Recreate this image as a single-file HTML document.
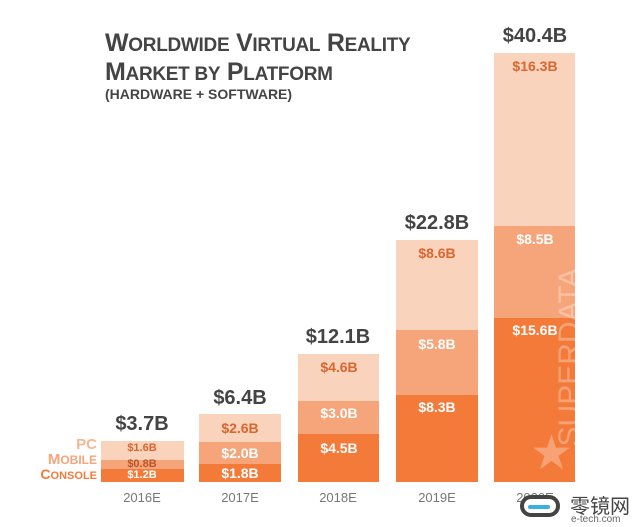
<!DOCTYPE html>
<html><head><style>
body{margin:0;width:640px;height:527px;background:#fff;position:relative;overflow:hidden;font-family:"Liberation Sans Narrow","Liberation Sans",sans-serif;}
.a{position:absolute}
.bar{position:absolute}
.c{background:#f47a3a}.m{background:#f6a57a}.p{background:#fad3bc}
.l{position:absolute;font-weight:bold;text-align:center;font-size:14px;color:#fff;width:82px}
.lp{color:#d9662e}
.t{position:absolute;font-weight:bold;text-align:center;font-size:20px;color:#444;width:100px}
.x{position:absolute;text-align:center;font-size:13px;color:#777;width:90px;top:490px;font-family:"Liberation Sans",sans-serif}
</style></head><body>
<div class="a" style="left:105px;top:30px;font-weight:bold;color:#444;font-size:25px;line-height:26px;letter-spacing:-0.3px">W<span style="font-size:19px">ORLDWIDE</span> V<span style="font-size:19px">IRTUAL</span> R<span style="font-size:19px">EALITY</span><br>M<span style="font-size:19px">ARKET BY</span> P<span style="font-size:19px">LATFORM</span></div>
<div class="a" style="left:105px;top:86px;font-weight:bold;color:#444;font-size:14px">(HARDWARE + SOFTWARE)</div>

<!-- 2016 -->
<div class="bar p" style="left:101px;width:83px;top:441px;height:19px"></div>
<div class="bar m" style="left:101px;width:83px;top:460px;height:9px"></div>
<div class="bar c" style="left:101px;width:83px;top:469px;height:13px"></div>
<div class="l lp" style="left:101px;top:442px;font-size:11px">$1.6B</div>
<div class="l lp" style="left:101px;top:458px;font-size:11px;color:#b8552a">$0.8B</div>
<div class="l" style="left:101px;top:469px;font-size:11px">$1.2B</div>
<div class="t" style="left:92px;top:413px">$3.7B</div>
<div class="a" style="left:70px;top:436px;width:27px;text-align:right;font-weight:bold;color:#f9b591;font-size:15px">PC</div>
<div class="a" style="left:30px;top:451px;width:67px;text-align:right;font-weight:bold;color:#f6a57a;font-size:15px">M<span style="font-size:12px">OBILE</span></div>
<div class="a" style="left:20px;top:466px;width:77px;text-align:right;font-weight:bold;color:#f47a3a;font-size:14px">C<span style="font-size:11px">ONSOLE</span></div>
<div class="x" style="left:97px">2016E</div>

<!-- 2017 -->
<div class="bar p" style="left:199px;width:82px;top:414px;height:28px"></div>
<div class="bar m" style="left:199px;width:82px;top:442px;height:22px"></div>
<div class="bar c" style="left:199px;width:82px;top:464px;height:18px"></div>
<div class="l lp" style="left:199px;top:420px">$2.6B</div>
<div class="l" style="left:199px;top:445px">$2.0B</div>
<div class="l" style="left:199px;top:465px">$1.8B</div>
<div class="t" style="left:190px;top:387px">$6.4B</div>
<div class="x" style="left:195px">2017E</div>

<!-- 2018 -->
<div class="bar p" style="left:298px;width:81px;top:354px;height:47px"></div>
<div class="bar m" style="left:298px;width:81px;top:401px;height:33px"></div>
<div class="bar c" style="left:298px;width:81px;top:434px;height:48px"></div>
<div class="l lp" style="left:298px;top:359px">$4.6B</div>
<div class="l" style="left:298px;top:405px">$3.0B</div>
<div class="l" style="left:298px;top:440px">$4.5B</div>
<div class="t" style="left:288px;top:326px">$12.1B</div>
<div class="x" style="left:293px">2018E</div>

<!-- 2019 -->
<div class="bar p" style="left:396px;width:82px;top:240px;height:90px"></div>
<div class="bar m" style="left:396px;width:82px;top:330px;height:65px"></div>
<div class="bar c" style="left:396px;width:82px;top:395px;height:87px"></div>
<div class="l lp" style="left:396px;top:245px">$8.6B</div>
<div class="l" style="left:396px;top:336px">$5.8B</div>
<div class="l" style="left:396px;top:399px">$8.3B</div>
<div class="t" style="left:387px;top:212px">$22.8B</div>
<div class="x" style="left:392px">2019E</div>

<!-- 2020 -->
<div class="bar p" style="left:494px;width:81px;top:53px;height:173px"></div>
<div class="bar m" style="left:494px;width:81px;top:226px;height:92px"></div>
<div class="bar c" style="left:494px;width:81px;top:318px;height:164px"></div>
<div class="l lp" style="left:494px;top:58px">$16.3B</div>
<div class="l" style="left:494px;top:231px">$8.5B</div>
<div class="l" style="left:494px;top:322px">$15.6B</div>
<div class="t" style="left:485px;top:25px">$40.4B</div>
<div class="a" style="left:470px;top:340px;width:200px;transform:rotate(-90deg);font-family:'Liberation Sans',sans-serif;font-size:30px;color:rgba(255,255,255,0.3);text-align:center">SUPERDATA</div>
<div class="a" style="left:530px;top:425px;font-size:48px;color:rgba(255,255,255,0.3);font-family:'DejaVu Sans',sans-serif">★</div>
<div class="x" style="left:490px">2020E</div>

<div class="a" style="left:520px;top:495px;width:40px;height:22px;border:4px solid #444;border-radius:13px;box-sizing:border-box;background:#fff"></div>
<div class="a" style="left:528px;top:505px;width:22px;height:4px;background:#3ab0e0;border-radius:2px"></div>
<div class="a" style="left:570px;top:490px;font-size:20px;color:#444;font-family:'Noto Sans CJK SC',sans-serif">零镜网</div>
<div class="a" style="left:571px;top:514px;font-size:10px;color:#666;font-family:'Liberation Sans',sans-serif">e-tech.com</div>
</body></html>
